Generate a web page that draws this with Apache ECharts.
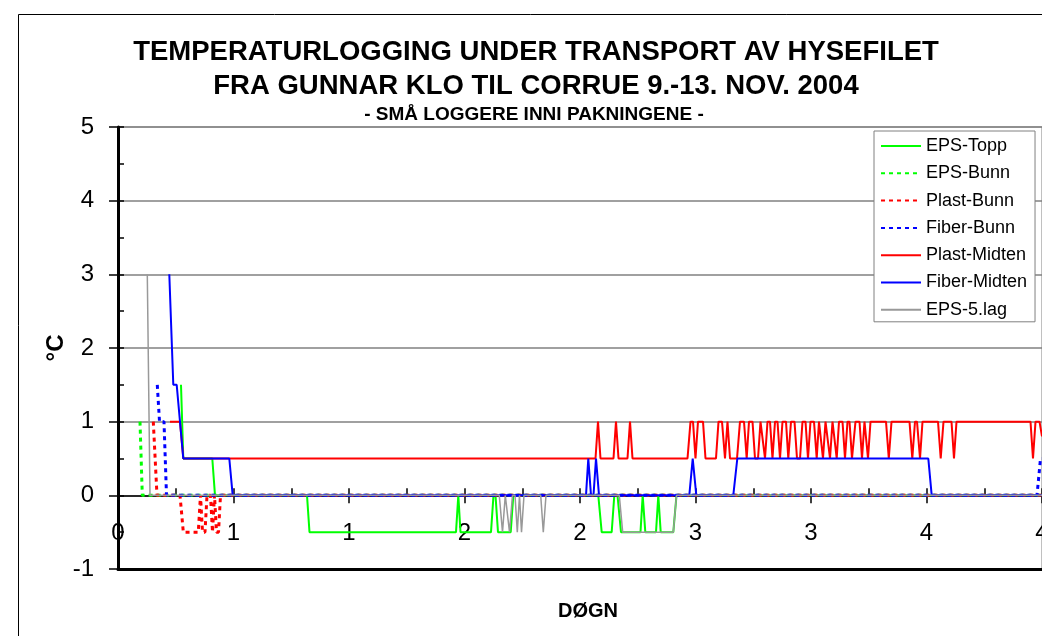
<!DOCTYPE html>
<html>
<head>
<meta charset="utf-8">
<script src="https://cdn.jsdelivr.net/npm/echarts@6.0.0/dist/echarts.min.js"></script>
<style>
html, body { margin: 0; padding: 0; background: #fff; }
#chart { width: 1042px; height: 636px; }
</style>
</head>
<body>
<div id="chart"></div>
<script>
const titleLines = "TEMPERATURLOGGING UNDER TRANSPORT AV HYSEFILET\nFRA GUNNAR KLO TIL CORRUE 9.-13. NOV. 2004";
const subTitle = "- SMÅ LOGGERE INNI PAKNINGENE -";
const seriesNames = ["EPS-Topp", "EPS-Bunn", "Plast-Bunn", "Fiber-Bunn", "Plast-Midten", "Fiber-Midten", "EPS-5.lag"];
const dayLabels = ["0", "1", "1", "2", "2", "3", "3", "4", "4"];

// [døgn, °C]
const epsTopp = [
  [0.2727, 1.5], [0.2827, 0.5], [0.4082, 0.5], [0.4199, 0], [0.8182, 0], [0.8290, -0.5],
  [1.4632, -0.5], [1.4732, 0], [1.4827, -0.5], [1.6147, -0.5], [1.6255, 0], [1.6342, 0], [1.6450, -0.5],
  [1.7000, -0.5], [1.7113, 0], [2.0792, 0], [2.0939, -0.5], [2.1372, -0.5], [2.1485, 0], [2.1623, 0],
  [2.1775, -0.5], [2.2619, -0.5], [2.2714, 0], [2.2827, -0.5], [2.3290, -0.5], [2.3390, 0], [2.3494, -0.5],
  [2.4039, -0.5], [2.4177, 0], [4, 0]
];
const epsBunn = [[0.0952, 1], [0.1052, 0], [4, 0]];
const plastBunn = [
  [0.1528, 1], [0.1688, 0], [0.2684, 0], [0.2827, -0.5], [0.3476, -0.5], [0.3571, 0], [0.3658, -0.5],
  [0.3766, -0.5], [0.3853, 0], [0.4004, 0], [0.4091, -0.5], [0.4177, 0], [0.4264, -0.5], [0.4351, -0.5],
  [0.4437, 0], [4, 0]
];
const fiberBunn = [[0.1701, 1.5], [0.1797, 1], [0.1991, 1], [0.2100, 0], [3.9784, 0], [3.9935, 0.5], [4, 0.5]];
const plastMidten = [
  [0.2251, 1], [0.2684, 1], [0.2827, 0.5], [2.0671, 0.5], [2.0779, 1], [2.0887, 0.5], [2.1450, 0.5],
  [2.1558, 1], [2.1667, 0.5], [2.2056, 0.5], [2.2165, 1], [2.2273, 0.5], [2.4654, 0.5], [2.4784, 1],
  [2.4892, 1], [2.5000, 0.5], [2.5108, 1], [2.5325, 1], [2.5433, 0.5], [2.5887, 0.5], [2.5996, 1],
  [2.6147, 1], [2.6277, 0.5], [2.6385, 1], [2.6494, 0.5], [2.6797, 0.5], [2.6926, 1], [2.7100, 1],
  [2.7216, 0.5], [2.7316, 1], [2.7468, 1], [2.7576, 0.5], [2.7706, 0.5], [2.7814, 1], [2.7900, 1],
  [2.8009, 0.5], [2.8117, 1], [2.8225, 1], [2.8333, 0.5], [2.8442, 1], [2.8550, 1], [2.8658, 0.5],
  [2.8766, 1], [2.8918, 1], [2.9017, 0.5],
  [2.9134, 1], [2.9286, 1], [2.9394, 0.5], [2.9524, 0.5], [2.9632, 1], [2.9762, 1], [2.9870, 0.5],
  [2.9978, 1], [3.0130, 1], [3.0247, 0.5], [3.0346, 1], [3.0411, 1], [3.0519, 0.5], [3.0628, 1],
  [3.0714, 1], [3.0823, 0.5], [3.0931, 1], [3.0996, 1], [3.1113, 0.5], [3.1212, 1], [3.1364, 1],
  [3.1472, 0.5], [3.1580, 1], [3.1667, 1], [3.1775, 0.5], [3.1818, 0.5], [3.1926, 1], [3.2100, 1],
  [3.2208, 0.5], [3.2316, 1], [3.2359, 1], [3.2468, 0.5], [3.2576, 1], [3.3247, 1], [3.3368, 0.5],
  [3.3485, 1], [3.4264, 1], [3.4385, 0.5], [3.4502, 1], [3.4589, 1], [3.4719, 0.5], [3.4827, 1],
  [3.5498, 1], [3.5615, 0.5], [3.5736, 1], [3.6082, 1], [3.6190, 0.5], [3.6299, 1], [3.9502, 1],
  [3.9610, 0.5], [3.9719, 1], [3.9892, 1], [4, 0.8]
];
const fiberMidten = [
  [0.2221, 3], [0.2394, 1.5], [0.2541, 1.5], [0.2827, 0.5], [0.4818, 0.5], [0.4965, 0], [2.0260, 0],
  [2.0359, 0.5], [2.0476, 0], [2.0584, 0], [2.0693, 0.5], [2.0823, 0], [2.4732, 0], [2.4879, 0.5],
  [2.5035, 0], [2.6636, 0], [2.6810, 0.5], [3.5078, 0.5], [3.5225, 0], [4, 0]
];
const eps5lag = [
  [0.1268, 3], [0.1385, 0], [1.6506, 0], [1.6645, -0.5], [1.6766, 0], [1.6840, 0], [1.6948, -0.5],
  [1.7078, 0], [1.7186, 0], [1.7286, -0.5], [1.7381, 0], [1.7468, -0.5], [1.7576, 0], [1.8299, 0],
  [1.8411, -0.5], [1.8528, 0], [2.1701, 0], [2.1848, -0.5], [2.4039, -0.5], [2.4177, 0], [4, 0]
];

const seriesData = [epsTopp, epsBunn, plastBunn, fiberBunn, plastMidten, fiberMidten, eps5lag];
const seriesColors = ["#00ff00", "#00ff00", "#ff0000", "#0000ff", "#ff0000", "#0000ff", "#999999"];
const seriesDotted = [false, true, true, true, false, false, false];

const font = "'Liberation Sans', Arial, sans-serif";
const chart = echarts.init(document.getElementById("chart"), null, { renderer: "canvas" });

chart.setOption({
  animation: false,
  backgroundColor: "#fff",
  textStyle: { fontFamily: font, color: "#000" },
  graphic: [{
    type: "rect",
    shape: { x: 18.5, y: 14.5, width: 1100, height: 700 },
    style: { fill: "none", stroke: "#000", lineWidth: 1 },
    silent: true
  }],
  title: [
    {
      text: titleLines,
      left: 536,
      top: 35,
      padding: 0,
      textAlign: "center",
      textStyle: { fontFamily: font, fontSize: 27.5, fontWeight: "bold", lineHeight: 34, color: "#000" }
    },
    {
      text: subTitle,
      left: 534,
      top: 105,
      padding: 0,
      textAlign: "center",
      textStyle: { fontFamily: font, fontSize: 19, fontWeight: "bold", lineHeight: 20, color: "#000" }
    }
  ],
  legend: {
    data: seriesNames,
    orient: "vertical",
    left: 874,
    top: 131,
    padding: [5, 8, 2, 6],
    itemGap: 7.3,
    itemWidth: 40,
    itemHeight: 14,
    backgroundColor: "#fff",
    borderColor: "#808080",
    borderWidth: 1,
    borderRadius: 0,
    itemStyle: { opacity: 0 },
    textStyle: { fontFamily: font, fontSize: 18, color: "#000", lineHeight: 20 }
  },
  grid: {
    left: 118, right: 0, top: 127, bottom: 67,
    outerBoundsMode: "none",
    show: true, borderColor: "#808080", borderWidth: 1, backgroundColor: "transparent"
  },
  xAxis: [
    {
      type: "value", min: 0, max: 4, interval: 0.5, position: "bottom",
      axisLine: { show: true, onZero: false, lineStyle: { color: "#000", width: 3 } },
      axisTick: { show: false },
      axisLabel: {
        margin: -48, fontSize: 24, color: "#000", fontFamily: font,
        formatter: (v) => dayLabels[Math.round(v / 0.5)]
      },
      splitLine: { show: false },
      name: "DØGN",
      nameLocation: "middle",
      nameGap: 32,
      nameMoveOverlap: false,
      nameTextStyle: { fontFamily: font, fontSize: 20, fontWeight: "bold", color: "#000", padding: [0, 0, 0, 16] }
    },
    {
      type: "value", min: 0, max: 4, interval: 0.5, position: "top",
      axisLine: { show: true, onZero: true, onZeroAxisIndex: 0, lineStyle: { color: "#000", width: 1.5 } },
      axisTick: { show: true, inside: true, length: 8, lineStyle: { color: "#000", width: 1.5 } },
      axisLabel: { show: false },
      splitLine: { show: false }
    },
    {
      type: "value", min: 0, max: 4, interval: 0.25, position: "top",
      axisLine: { show: false, onZero: true, onZeroAxisIndex: 0 },
      axisTick: { show: true, length: 7, lineStyle: { color: "#000", width: 1.5 } },
      axisLabel: { show: false },
      splitLine: { show: false }
    }
  ],
  yAxis: [
    {
      type: "value", min: -1, max: 5, interval: 1,
      axisLine: { show: true, lineStyle: { color: "#000", width: 3 } },
      axisTick: { show: true, length: 9, lineStyle: { color: "#000", width: 1.5 } },
      axisLabel: { margin: 24, fontSize: 24, color: "#000", fontFamily: font },
      splitLine: { show: true, lineStyle: { color: "#808080", width: 1.5 } },
      name: "°C",
      nameLocation: "middle",
      nameGap: 50,
      nameMoveOverlap: false,
      nameTextStyle: { fontFamily: font, fontSize: 24, fontWeight: "bold", color: "#000" }
    },
    {
      type: "value", min: -1, max: 5, interval: 0.5, position: "left",
      axisLine: { show: false },
      axisTick: { show: true, inside: true, length: 6, lineStyle: { color: "#000", width: 1.5 } },
      axisLabel: { show: false },
      splitLine: { show: false }
    }
  ],
  series: seriesNames.map((name, i) => ({
    name,
    type: "line",
    data: seriesData[i],
    symbol: "none",
    showSymbol: false,
    xAxisIndex: 0,
    yAxisIndex: 0,
    color: seriesColors[i],
    lineStyle: seriesDotted[i]
      ? { color: seriesColors[i], width: 3, type: [4, 4] }
      : { color: seriesColors[i], width: name === "EPS-5.lag" ? 1.5 : 2 },
    emphasis: { disabled: true }
  }))
});
</script>
</body>
</html>
